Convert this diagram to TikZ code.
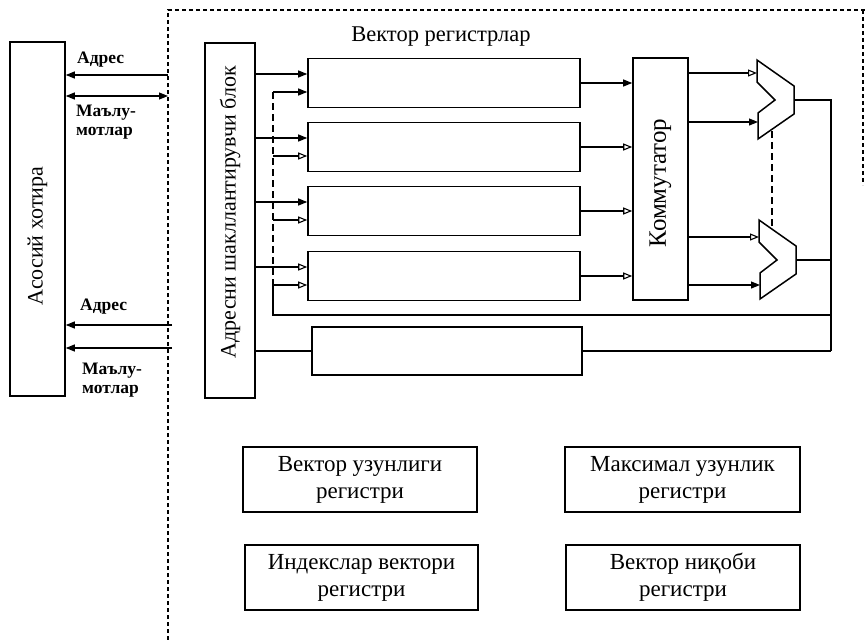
\documentclass[tikz,border=0pt]{standalone}
\usepackage{fontspec}
\setmainfont{Liberation Serif}
\usetikzlibrary{arrows.meta}

\begin{document}
\begin{tikzpicture}[
  x=1pt, y=-1pt,
  box/.style={draw, line width=1.6pt, inner sep=0pt, align=center,
    font=\fontsize{23}{27}\selectfont},
  lbl/.style={anchor=west, align=left, inner sep=0pt,
    font=\bfseries\fontsize{17.5}{19}\selectfont},
  wire/.style={line width=1.1pt},
  longdash/.style={dash pattern=on 7pt off 4pt},
  fulltip/.style={wire, -{Triangle[length=9pt,width=7pt]}},
  opentip/.style={wire, -{Triangle[open,length=9pt,width=7pt]}},
  border/.style={line width=1.2pt, dash pattern=on 4pt off 3pt},
]
  \useasboundingbox (0,0) rectangle (865,640);

  % main memory and address block
  \node[box, minimum width=55pt, minimum height=354pt] (mem) at (37.5,219) {};
  \node[rotate=90, font=\fontsize{22}{24}\selectfont] at (37.5,236) {Асосий хотира};
  \node[box, minimum width=50pt, minimum height=355pt] (adr) at (230,220.5) {};
  \node[rotate=90, font=\fontsize{22}{24}\selectfont] at (230,212) {Адресни шакллантирувчи блок};

  % dashed frame
  \draw[border] (168,640) -- (168,10) -- (865,10);
  \draw[border] (863,10) -- (863,185);

  \coordinate (p1) at (168,75);
  \coordinate (p2) at (168,96);
  \coordinate (p3) at (172,325);
  \coordinate (p4) at (172,348);
  \draw[fulltip] (p1) -- (mem.east |- p1);
  \draw[wire, {Triangle[length=9pt,width=7pt]}-{Triangle[length=9pt,width=7pt]}]
    (mem.east |- p2) -- (p2);
  \draw[fulltip] (p3) -- (mem.east |- p3);
  \draw[fulltip] (p4) -- (mem.east |- p4);

  \node[lbl] at (77,60) {Адрес};
  \node[lbl] at (76,122) {Маълу-\\мотлар};
  \node[lbl] at (80,307) {Адрес};
  \node[lbl] at (82,380) {Маълу-\\мотлар};

  % vector registers
  \node[font=\fontsize{22.5}{24}\selectfont] (title) at (441,37) {Вектор регистрлар};
  \node[box, minimum width=55pt, minimum height=242pt] (comm) at (660.5,179) {};
  \node[rotate=90, font=\fontsize{25}{26}\selectfont] at (660.5,183) {Коммутатор};

  \foreach \i/\y/\ta/\tb/\tc in {1/83/fulltip/fulltip/fulltip,
      2/147/fulltip/opentip/opentip, 3/211/fulltip/opentip/opentip,
      4/276/opentip/opentip/opentip} {
    \node[box, minimum width=272pt, minimum height=49pt] (r\i) at (444,\y) {};
    \coordinate (bus\i) at (273,\y+9);
    \draw[\ta] (adr.east |- 0,\y-9) -- (r\i.west |- 0,\y-9);
    \draw[\tb] (bus\i) -- (r\i.west |- bus\i);
    \draw[\tc] (r\i.east) -- (comm.west |- r\i.east);
  }
  \node[box, minimum width=270pt, minimum height=48pt] (r5) at (447,351) {};

  % multiplexers
  \foreach \mx/\my in {757/60, 759/220} {
    \draw[line width=1.5pt, shift={(\mx,\my)}]
      (0,0) -- (0,22) -- (18,40) -- (1,53) -- (1,79) -- (37,54) -- (37,26) -- cycle;
  }
  \coordinate (m1a) at (757,73);
  \coordinate (m1b) at (758,122);
  \coordinate (m2a) at (759,237);
  \coordinate (m2b) at (760,285);
  \coordinate (m1o) at (794,100);
  \coordinate (m2o) at (796,260);
  \draw[opentip] (comm.east |- m1a) -- (m1a);
  \draw[fulltip] (comm.east |- m1b) -- (m1b);
  \draw[opentip] (comm.east |- m2a) -- (m2a);
  \draw[fulltip] (comm.east |- m2b) -- (m2b);
  \draw[wire, longdash] (772,131) -- (772,227);

  % feedback wiring
  \coordinate (fb) at (273,315);
  \coordinate (corner) at (831,351);
  \draw[wire, longdash] (bus1) -- (bus4);
  \draw[wire] (bus4) -- (fb) -- (fb -| corner);
  \draw[wire] (m1o) -| (corner);
  \draw[wire] (m2o) -- (m2o -| corner);
  \draw[wire] (adr.east |- r5) -- (r5.west);
  \draw[wire] (r5.east) -- (corner);

  % scalar registers
  \node[box, minimum width=234pt, minimum height=65pt] (len) at (360,479.5)
    {Вектор узунлиги\\регистри};
  \node[box, minimum width=235pt, minimum height=65pt] (maxlen) at (682.5,479.5)
    {Максимал узунлик\\регистри};
  \node[box, minimum width=233pt, minimum height=65pt] (idx) at (361.5,577.5)
    {Индекслар вектори\\регистри};
  \node[box, minimum width=234pt, minimum height=65pt] (mask) at (683,577.5)
    {Вектор ниқоби\\регистри};
\end{tikzpicture}
\end{document}
